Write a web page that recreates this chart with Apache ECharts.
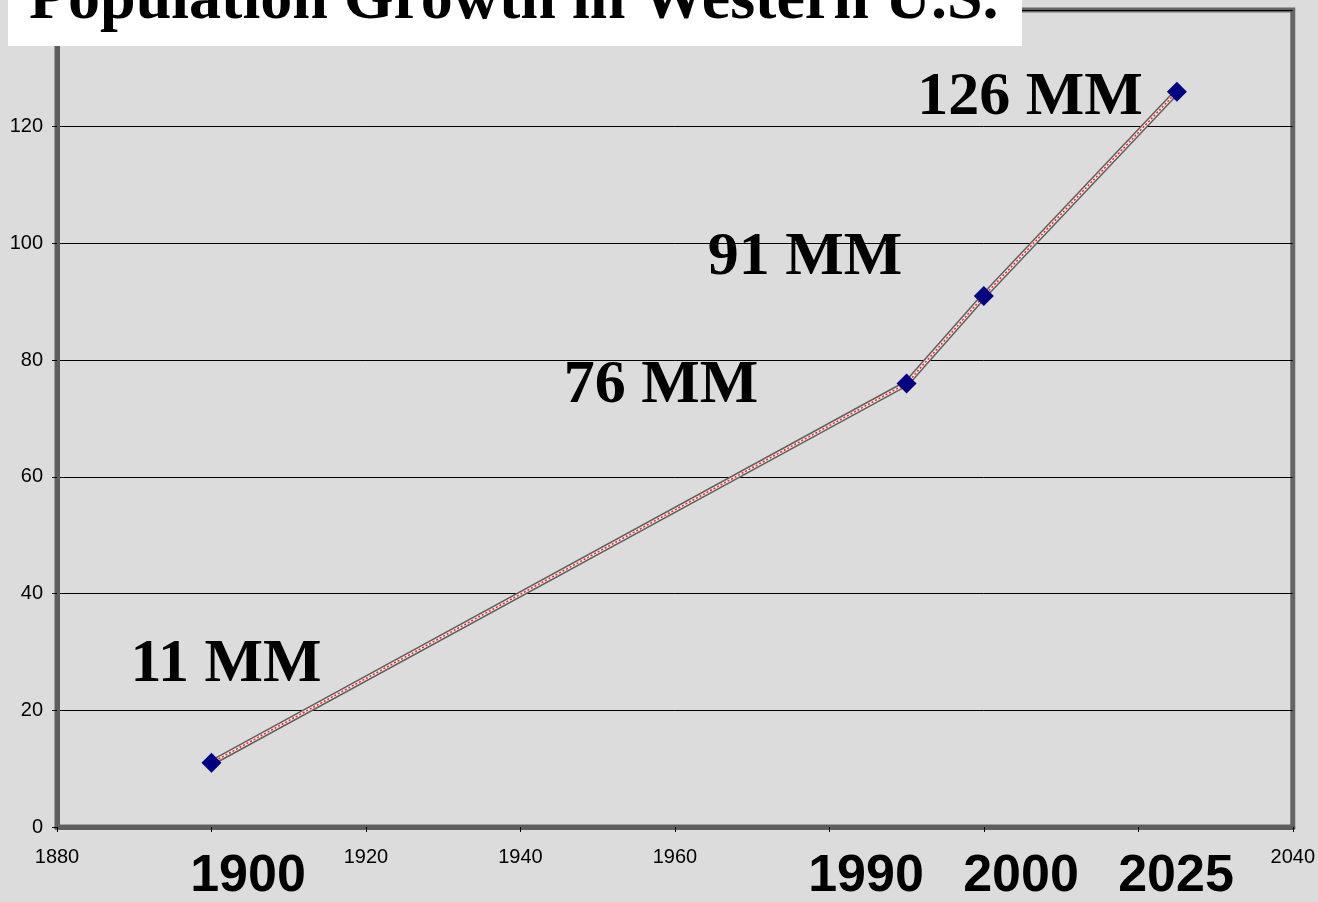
<!DOCTYPE html>
<html>
<head>
<meta charset="utf-8">
<title>Population Growth in Western U.S.</title>
<script src="https://cdn.jsdelivr.net/npm/echarts@6/dist/echarts.min.js"></script>
<style>
  html, body { margin: 0; padding: 0; background: #dcdcdc; }
  #chart { width: 1318px; height: 902px; }
</style>
</head>
<body>
<div id="chart"></div>
<script>
// Population of the western states, in millions
const years = [1900, 1990, 2000, 2025];
const population = [11, 76, 91, 126];
const titleText = 'Population Growth in Western U.S.';

// Axis ranges; the small year labels left under the bold annotations are blank
const xMin = 1880, xMax = 2040, xStep = 20;
const yMin = 0, yMax = 140, yStep = 20;
const xTickLabels = ['1880', '', '1920', '1940', '1960', '', '', '', '2040'];

// Where the big annotations sit (centre points, px)
const valueLabelPos = [[226, 665], [661, 386], [805, 258], [1030, 98]];
const yearLabelPos = [[248, 877], [866, 877], [1021, 877], [1176, 877]];

const points = years.map((y, i) => [y, population[i]]);

const chart = echarts.init(document.getElementById('chart'), null, { renderer: 'canvas' });

const serif = '"Liberation Serif", "Times New Roman", serif';
const sans = '"Liberation Sans", Arial, sans-serif';

const graphics = [
  { type: 'rect', z: 100, shape: { x: 8, y: 0, width: 1014, height: 46 }, style: { fill: '#ffffff' } },
  { type: 'text', z: 101, x: 29, y: 1,
    style: { text: titleText, font: 'bold 64px ' + serif, fill: '#000', align: 'left', verticalAlign: 'middle' } }
];
population.forEach((v, i) => {
  graphics.push({ type: 'text', z: 101, x: valueLabelPos[i][0], y: valueLabelPos[i][1],
    style: { text: v + ' MM', font: 'bold 62px ' + serif, fill: '#000', align: 'center', verticalAlign: 'middle' } });
});
years.forEach((y, i) => {
  graphics.push({ type: 'text', z: 101, x: yearLabelPos[i][0], y: yearLabelPos[i][1],
    style: { text: String(y), font: 'bold 52px ' + sans, fill: '#000', align: 'center', verticalAlign: 'middle' } });
});

chart.setOption({
  backgroundColor: '#dcdcdc',
  animation: false,
  grid: {
    left: 57, right: 25, top: 7, bottom: 75,
    show: true, borderColor: '#666666', borderWidth: 5, backgroundColor: 'transparent'
  },
  xAxis: {
    type: 'value', min: xMin, max: xMax, interval: xStep,
    axisLine: { show: true, onZero: false, lineStyle: { color: '#5e5e5e', width: 5 } },
    axisTick: { show: true, length: 5, lineStyle: { color: '#000', width: 1 } },
    axisLabel: {
      color: '#000', fontSize: 20, fontFamily: sans, margin: 20,
      formatter: (v) => xTickLabels[Math.round((v - xMin) / xStep)] || ''
    },
    splitLine: { show: false }
  },
  yAxis: {
    type: 'value', min: yMin, max: yMax, interval: yStep,
    axisLine: { show: true, lineStyle: { color: '#5e5e5e', width: 5 } },
    axisTick: { show: true, length: 5, lineStyle: { color: '#000', width: 1 } },
    axisLabel: { color: '#000', fontSize: 20, fontFamily: sans, margin: 14 },
    splitLine: { show: true, lineStyle: { color: '#000', width: 1 } }
  },
  series: [
    { type: 'line', data: points, symbol: 'none', z: 3,
      lineStyle: { color: '#5f5f5f', width: 6 } },
    { type: 'line', data: points, symbol: 'none', z: 4,
      lineStyle: { color: '#f0e8e8', width: 3 } },
    { type: 'line', data: points, z: 5,
      symbol: 'diamond', symbolSize: 20,
      itemStyle: { color: '#000080' },
      lineStyle: { color: '#ff2020', width: 1.5, type: [2, 2] } }
  ],
  graphic: graphics
});
</script>
</body>
</html>
